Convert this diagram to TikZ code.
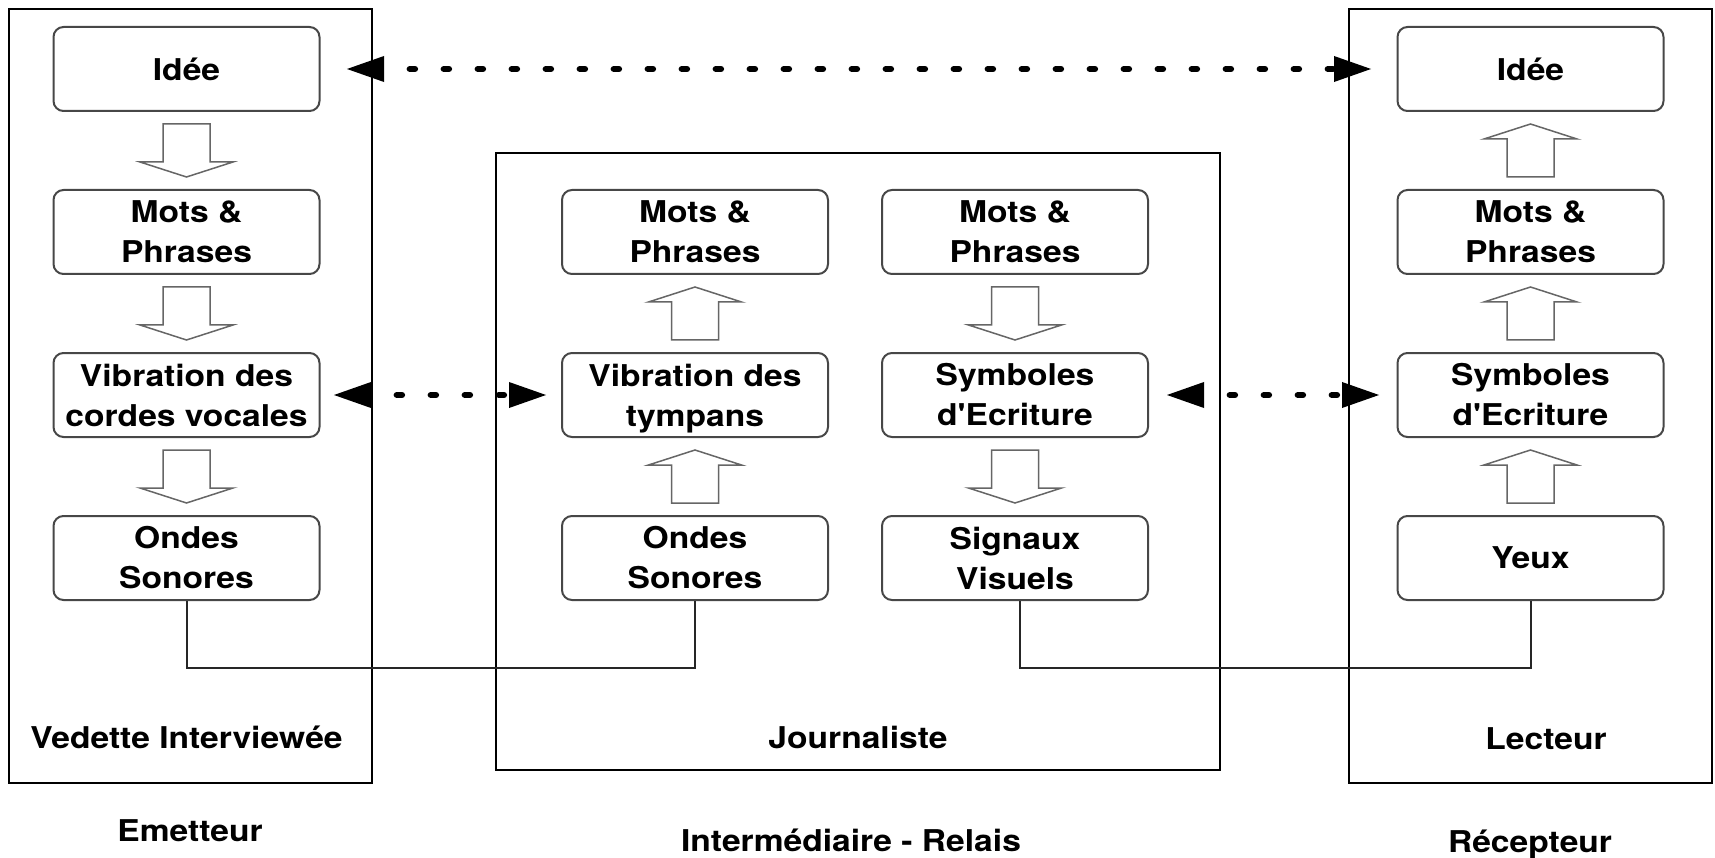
\documentclass[tikz,border=0pt]{standalone}
\usepackage{fontspec}
\setmainfont{TeX Gyre Heros}[FakeStretch=1.12, Ligatures=TeXOff]
\usetikzlibrary{arrows.meta,calc}
\begin{document}
\begin{tikzpicture}[x=1pt,y=-1pt,
  txt/.style={font=\fontsize{30}{40}\selectfont\bfseries},
  stage/.style={txt, draw=black!72, line width=2pt, rounded corners=10pt,
    minimum width=266pt, minimum height=84pt, align=center, inner sep=0pt, fill=white},
  frame/.style={draw=black, line width=2pt},
  caption/.style={txt, anchor=base, inner sep=0pt},
  link/.style={draw=black!85, line width=2pt},
  talk/.style={line width=6.5pt, line cap=round, dash pattern=on 5pt off 29pt, dash phase=6.5pt,
    {Triangle[length=38pt,width=24pt]}-{Triangle[length=38pt,width=24pt]}},
  flow/.style={draw=black!60, line width=1.5pt, fill=white, line join=miter},
  blockdn/.pic={\path[flow] (-23.5,-26.5) -- (23.5,-26.5) -- (23.5,11.5) -- (46.5,11.5)
    -- (0,26.5) -- (-46.5,11.5) -- (-23.5,11.5) -- cycle;},
  blockup/.pic={\path[flow] (-23.5,26.5) -- (23.5,26.5) -- (23.5,-11.5) -- (46.5,-11.5)
    -- (0,-26.5) -- (-46.5,-11.5) -- (-23.5,-11.5) -- cycle;},
]
\useasboundingbox (0,0) rectangle (1715,858);

% outer frames
\draw[frame] (9,9) rectangle (372,783);
\draw[frame] (496,153) rectangle (1220,770);
\draw[frame] (1349,9) rectangle (1712,783);

% sender column
\node[stage] (e1) at (186.5,69)  {Idée};
\node[stage] (e2) at (186.5,232) {Mots \&\\Phrases};
\node[stage] (e3) at (186.5,395) {Vibration des\\cordes vocales};
\node[stage] (e4) at (186.5,558) {Ondes\\Sonores};

% relay, listening side
\node[stage] (a2) at (695,232) {Mots \&\\Phrases};
\node[stage] (a3) at (695,395) {Vibration des\\\raisebox{0pt}[\height][0pt]{tympans}};
\node[stage] (a4) at (695,558) {Ondes\\Sonores};

% relay, writing side
\node[stage] (b2) at (1015,232) {Mots \&\\Phrases};
\node[stage] (b3) at (1015,395) {Symboles\\d'Ecriture};
\node[stage] (b4) at (1015,558) {Signaux\\Visuels};

% receiver column
\node[stage] (r1) at (1530.5,69)  {Idée};
\node[stage] (r2) at (1530.5,232) {Mots \&\\Phrases};
\node[stage] (r3) at (1530.5,395) {Symboles\\d'Ecriture};
\node[stage] (r4) at (1530.5,558) {Yeux};

% block arrows
\pic at ($(e1.south)!.5!(e2.north)$) {blockdn};
\pic at ($(e2.south)!.5!(e3.north)$) {blockdn};
\pic at ($(e3.south)!.5!(e4.north)$) {blockdn};
\pic at ($(a3.south)!.5!(a4.north)$) {blockup};
\pic at ($(a2.south)!.5!(a3.north)$) {blockup};
\pic at ($(b2.south)!.5!(b3.north)$) {blockdn};
\pic at ($(b3.south)!.5!(b4.north)$) {blockdn};
\pic at ($(r3.south)!.5!(r4.north)$) {blockup};
\pic at ($(r2.south)!.5!(r3.north)$) {blockup};
\pic at ($(r1.south)!.5!(r2.north)$) {blockup};

% correspondences
\draw[talk, shorten <=25.5pt, shorten >=24.5pt] (e1.east) -- (r1.west);
\draw[talk, shorten <=12.5pt, shorten >=14pt] (e3.east) -- (a3.west);
\draw[talk, shorten <=17pt, shorten >=16.5pt] (b3.east) -- (r3.west);

% physical channels
\coordinate (bus) at (0,668);
\coordinate (b4out) at ([xshift=4.5pt]b4.south);
\draw[link] (e4.south) -- (e4.south |- bus) -| (a4.south);
\draw[link] (b4out) -- (b4out |- bus) -| (r4.south);

% captions
\node[caption] (t1) at (186.5,748) {Vedette Interviewée};
\node[caption] (t2) at (858,748)   {Journaliste};
\node[caption] (t3) at (1546,749)  {Lecteur};
\node[caption] (t4) at (190,841)   {Emetteur};
\node[caption] (t5) at (851,851)   {Intermédiaire - Relais};
\node[caption] (t6) at (1530,852)  {Récepteur};
\end{tikzpicture}
\end{document}
